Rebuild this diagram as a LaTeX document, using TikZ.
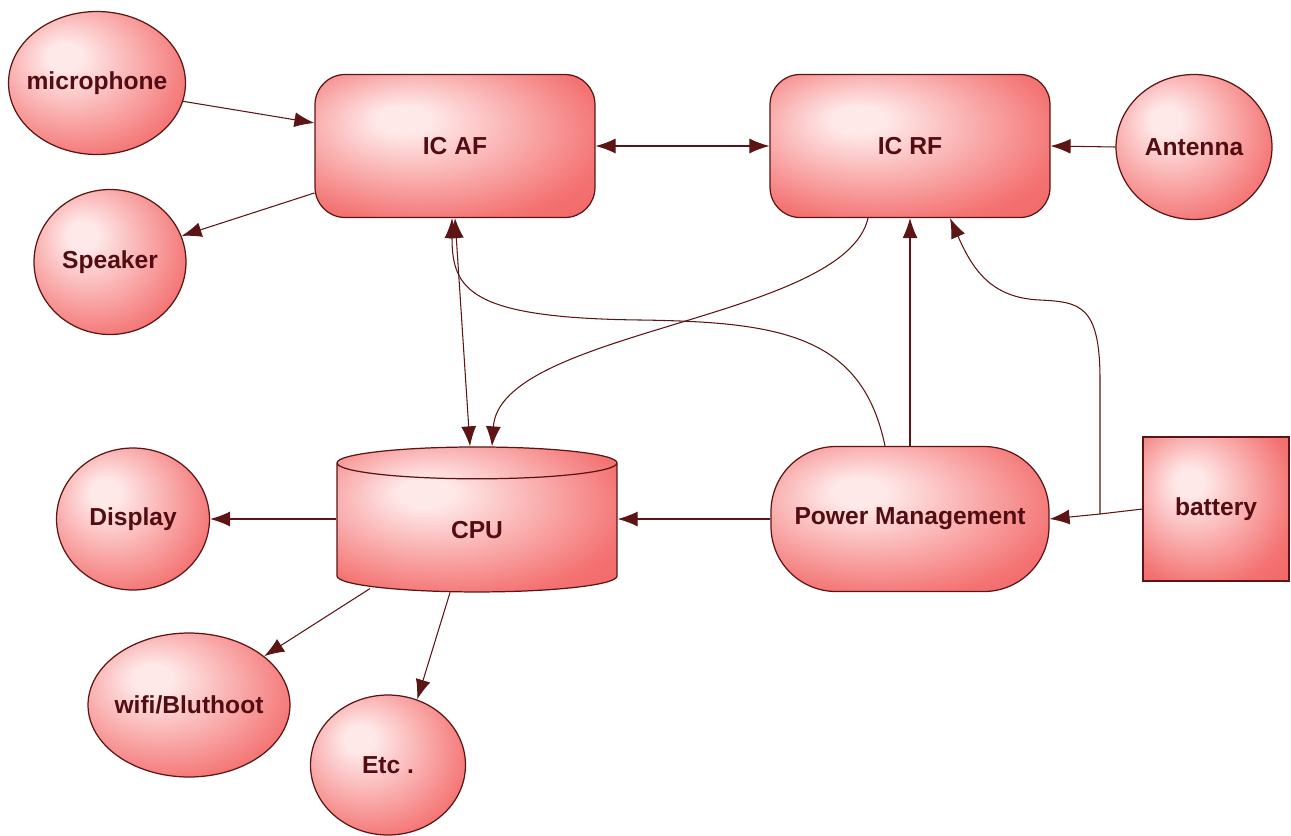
\documentclass[tikz,border=0pt]{standalone}
\usepackage{fontspec}
\setmainfont{Liberation Sans}
\usetikzlibrary{arrows.meta,shapes.geometric}
\definecolor{edgered}{HTML}{5C1414}
\definecolor{txtred}{HTML}{520C12}
\definecolor{pinkhi}{HTML}{FFE8E8}
\definecolor{redmid}{HTML}{F47272}
\definecolor{redlo}{HTML}{EE5A5A}
\pgfdeclareradialshading{glow}{\pgfpoint{-10bp}{10bp}}{color(0bp)=(pinkhi); color(5bp)=(pinkhi); color(32bp)=(redmid); color(50bp)=(redlo); color(60bp)=(redlo)}
\tikzset{
    blob/.style={draw=edgered, line width=0.7pt, shading=glow, text=txtred,
        font=\fontsize{14}{16}\selectfont\bfseries},
    part/.style={blob, ellipse, inner sep=0pt},
    chip/.style={blob, rectangle, rounded corners=0.6cm, minimum width=5.6cm, minimum height=2.86cm},
    wire/.style={draw=edgered, line width=0.6pt}
}
\begin{document}
\begin{tikzpicture}[x=0.02cm, y=-0.02cm, >={Latex[length=4mm,width=3mm]}]
\useasboundingbox (0,0) rectangle (1291,835);

% top row
\node[part, inner xsep=-6pt, minimum width=3.54cm, minimum height=2.86cm] (mic) at (97,83) {microphone};
\node[part, minimum width=3.04cm, minimum height=2.9cm] (spk) at (110,262) {Speaker};
\node[chip] (icaf) at (455,146) {IC AF};
\node[chip] (icrf) at (910,146) {IC RF};
\node[part, minimum width=3.12cm, minimum height=2.9cm] (ant) at (1194,147) {Antenna};

% middle row
\node[blob, cylinder, shape border rotate=90, aspect=0.5, minimum width=5.6cm, minimum height=2.9cm] (cpu) at (477,530) {CPU};
\node[blob, rectangle, rounded corners=1.3cm, minimum width=5.56cm, minimum height=2.9cm] (pm) at (910,519) {Power Management};
\node[blob, rectangle, minimum width=2.92cm, minimum height=2.88cm] (bat) at (1216,509) {battery};
\node[part, minimum width=3.06cm, minimum height=2.84cm] (disp) at (133,519) {Display};

% bottom row
\node[part, inner xsep=-6pt, minimum width=4.04cm, minimum height=2.88cm] (wifi) at (189,705) {wifi/Bluthoot};
\node[part, minimum width=3.1cm, minimum height=2.8cm] (etc) at (388,765) {Etc .};

\coordinate (split) at (1100,514);

\draw[wire,->] (mic.-12) -- ([yshift=0.46cm]icaf.west);
\draw[wire,->] ([yshift=-0.94cm]icaf.west) -- (spk.20);
\draw[wire,<->] (icaf.east) -- (icrf.west);
\draw[wire,->] (ant.west) -- (icrf.east);
\draw[wire,<->] (icaf.south) -- ([xshift=-0.14cm]cpu.north);
\draw[wire,->] ([xshift=-0.84cm]icrf.south) .. controls (845,320) and (500,330) .. ([xshift=0.3cm]cpu.north);
\draw[wire,->] ([xshift=-0.5cm]pm.north) .. controls (862,335) and (780,322) .. (640,320)
    .. controls (470,318) and (452,290) .. ([xshift=-0.06cm]icaf.south);
\draw[wire,->] (pm.north) -- (icrf.south);
\draw[wire] (bat.west) -- (split);
\draw[wire,->] (split) -- (pm.east);
\draw[wire,->] (split) -- (1100,380) .. controls (1100,305) and (1080,302) .. (1040,300)
    .. controls (990,298) and (972,268) .. ([xshift=0.8cm]icrf.south);
\draw[wire,->] (cpu.west |- disp.east) -- (disp.east);
\draw[wire,->] (pm.west) -- (pm.west -| cpu.east);
\draw[wire,->] ([xshift=-2.14cm,yshift=0.08cm]cpu.south) -- (wifi.33);
\draw[wire,->] ([xshift=-0.54cm]cpu.south) -- (etc.66);
\end{tikzpicture}
\end{document}
